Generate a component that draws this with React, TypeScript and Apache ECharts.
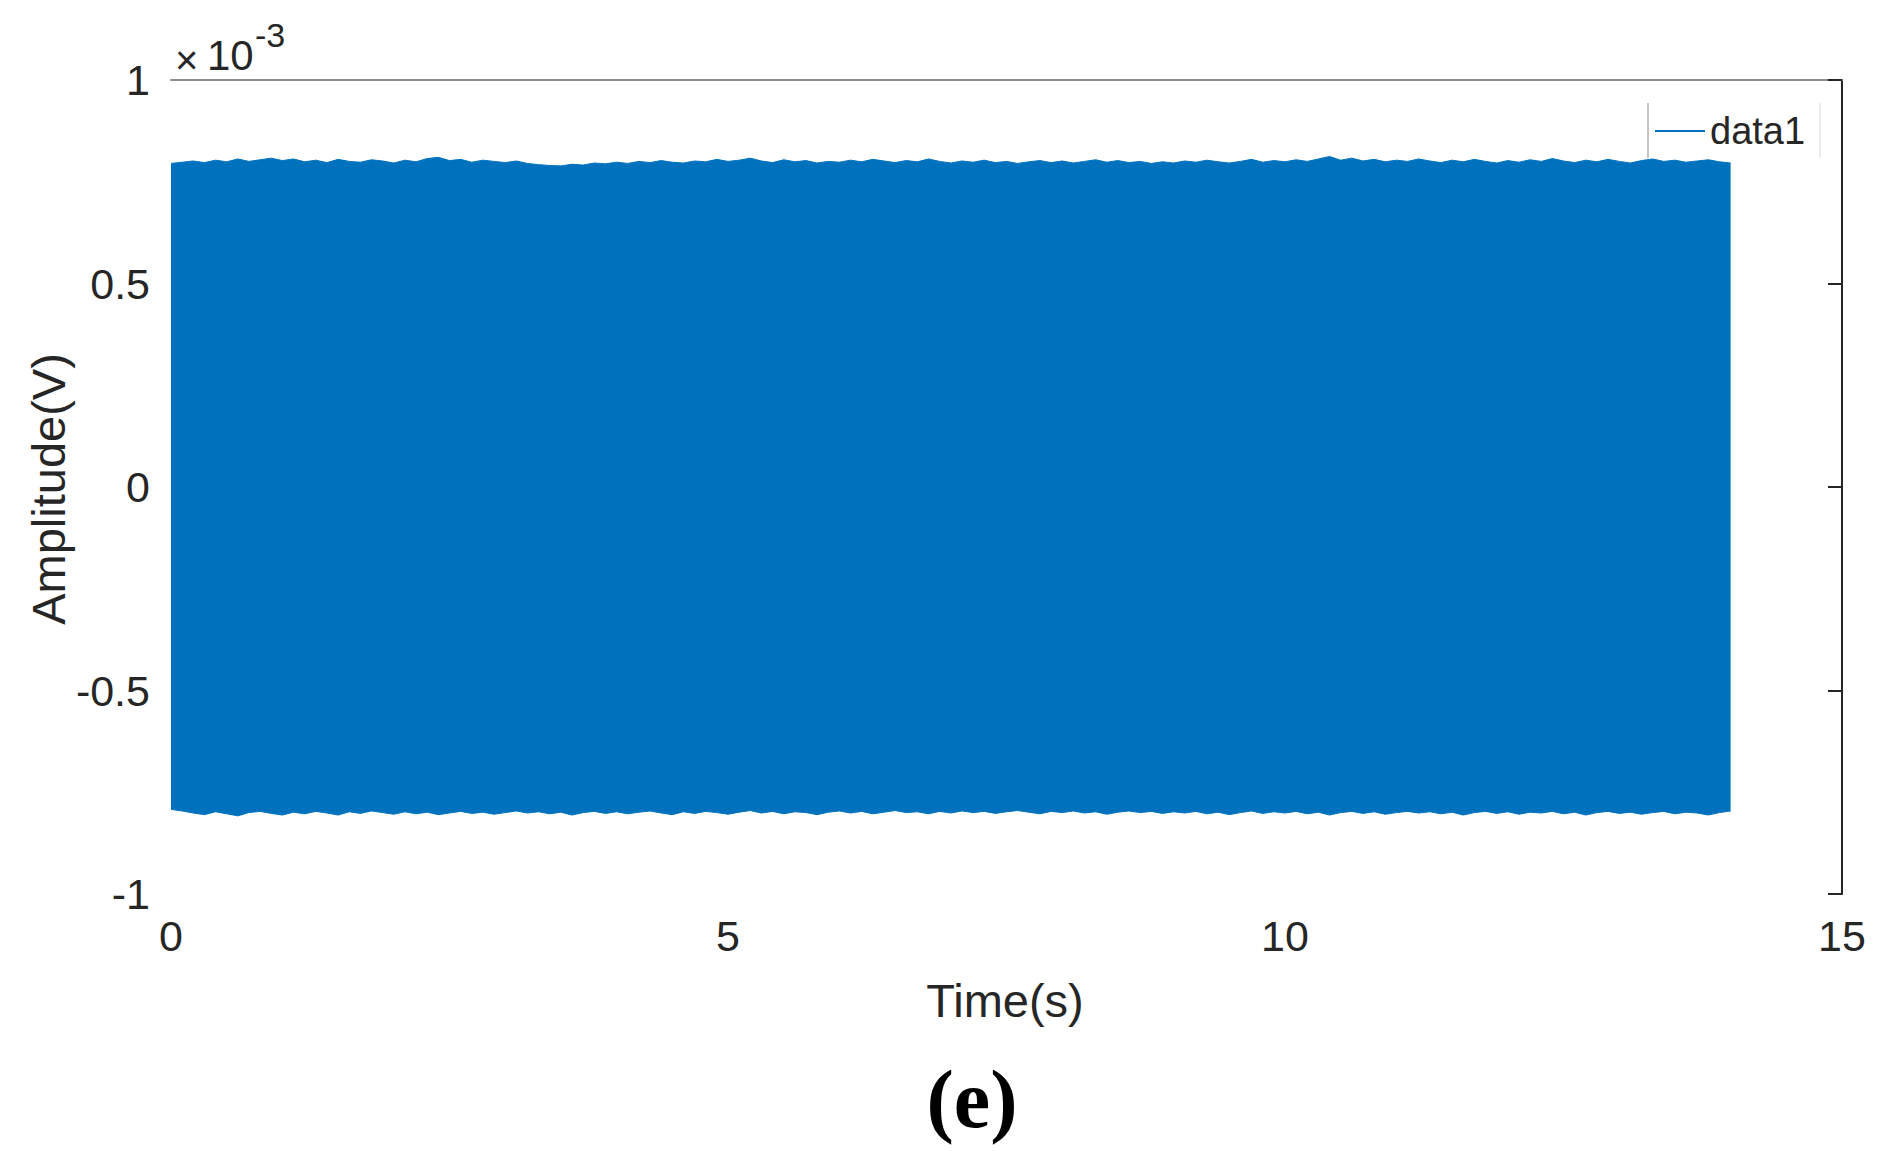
import React, { useEffect, useRef } from "react";
import * as echarts from "echarts";

// Envelope of the recorded signal, in units of 1e-3 V, sampled every 0.1 s from 0 to 14.0 s
const SAMPLE_STEP = 0.1;
const upperEnvelope = [
  0.795, 0.798, 0.801, 0.797, 0.803, 0.799, 0.806, 0.800, 0.804, 0.808, 0.802,
  0.806, 0.799, 0.803, 0.797, 0.805, 0.800, 0.798, 0.804, 0.801, 0.796,
  0.803, 0.799, 0.807, 0.810, 0.802, 0.805, 0.798, 0.803, 0.800, 0.797,
  0.801, 0.795, 0.792, 0.790, 0.789, 0.793, 0.791, 0.796, 0.794, 0.798,
  0.795, 0.800, 0.797, 0.802, 0.798, 0.796, 0.801, 0.799, 0.805, 0.800,
  0.803, 0.808, 0.801, 0.797, 0.804, 0.799, 0.802, 0.796, 0.800, 0.798,
  0.803, 0.799, 0.805, 0.801, 0.797, 0.802, 0.799, 0.806, 0.800, 0.796,
  0.801, 0.798, 0.803, 0.797, 0.800, 0.795, 0.799, 0.802, 0.797, 0.801,
  0.796, 0.800, 0.804, 0.798, 0.802, 0.797, 0.800, 0.795, 0.799, 0.796,
  0.801, 0.798, 0.803, 0.799, 0.796, 0.800, 0.805, 0.798, 0.802, 0.799,
  0.804, 0.800, 0.806, 0.812, 0.803, 0.808, 0.801, 0.805, 0.799, 0.803,
  0.800, 0.806, 0.801, 0.797, 0.803, 0.799, 0.805, 0.800, 0.796, 0.802,
  0.798, 0.804, 0.800, 0.807, 0.801, 0.797, 0.803, 0.799, 0.805, 0.800,
  0.796, 0.802, 0.806, 0.800, 0.803, 0.798, 0.801, 0.804, 0.799, 0.796,
];
const lowerEnvelope = [
  -0.792, -0.796, -0.801, -0.805, -0.798, -0.803, -0.808, -0.800, -0.797, -0.802, -0.806,
  -0.799, -0.803, -0.797, -0.801, -0.806, -0.798, -0.802, -0.796, -0.800, -0.804,
  -0.798, -0.803, -0.799, -0.805, -0.801, -0.797, -0.802, -0.799, -0.804, -0.800,
  -0.796, -0.801, -0.798, -0.803, -0.799, -0.806, -0.800, -0.797, -0.802, -0.798,
  -0.803, -0.799, -0.796, -0.801, -0.805, -0.798, -0.802, -0.797, -0.800, -0.804,
  -0.799, -0.795, -0.801, -0.797, -0.803, -0.798, -0.800, -0.805, -0.799, -0.796,
  -0.801, -0.797, -0.803, -0.799, -0.795, -0.800, -0.798, -0.803, -0.797, -0.801,
  -0.796, -0.800, -0.797, -0.802, -0.798, -0.795, -0.799, -0.803, -0.797, -0.800,
  -0.796, -0.801, -0.798, -0.804, -0.799, -0.796, -0.800, -0.797, -0.802, -0.798,
  -0.801, -0.797, -0.803, -0.799, -0.805, -0.800, -0.796, -0.802, -0.798, -0.801,
  -0.797, -0.803, -0.799, -0.806, -0.800, -0.797, -0.802, -0.798, -0.804, -0.800,
  -0.797, -0.801, -0.798, -0.803, -0.799, -0.806, -0.800, -0.797, -0.802, -0.798,
  -0.804, -0.799, -0.801, -0.797, -0.803, -0.799, -0.806, -0.800, -0.797, -0.802,
  -0.799, -0.804, -0.800, -0.797, -0.803, -0.799, -0.801, -0.806, -0.800, -0.796,
];
const xTicks = [0, 5, 10, 15];
const yTicks = [-1, -0.5, 0, 0.5, 1];

const FONT = "'Liberation Sans', Arial, sans-serif";
const TEXT = "#262626";
const BLUE = "#0072BD";

export default function App() {
  const ref = useRef<HTMLDivElement>(null);

  useEffect(() => {
    if (!ref.current) return;
    const chart = echarts.init(ref.current, undefined, { renderer: "svg" });
    const upper = upperEnvelope.map((v, i) => [+(i * SAMPLE_STEP).toFixed(2), v]);
    const lower = lowerEnvelope.map((v, i) => [+(i * SAMPLE_STEP).toFixed(2), v]);

    chart.setOption({
      animation: false,
      backgroundColor: "#ffffff",
      grid: { left: 171, right: 38, top: 80, bottom: 257 },
      legend: {
        data: [{ name: "data1", icon: "rect", itemStyle: { color: BLUE } }],
        left: 1655,
        top: 112,
        padding: 0,
        itemWidth: 50,
        itemHeight: 2,
        textStyle: { fontFamily: FONT, fontSize: 38, color: TEXT },
        selectedMode: false,
      },
      xAxis: [
        {
          type: "value",
          min: xTicks[0],
          max: xTicks[xTicks.length - 1],
          interval: 5,
          axisLine: { show: false, onZero: false },
          axisTick: { show: false },
          splitLine: { show: false },
          axisLabel: { fontFamily: FONT, fontSize: 43, color: TEXT, margin: 20 },
        },
        {
          type: "value",
          position: "top",
          min: xTicks[0],
          max: xTicks[xTicks.length - 1],
          interval: 5,
          axisLine: { show: true, onZero: false, lineStyle: { color: "#8c8c8c", width: 2 } },
          axisTick: { show: false },
          axisLabel: { show: false },
          splitLine: { show: false },
        },
      ],
      yAxis: [
        {
          type: "value",
          min: yTicks[0],
          max: yTicks[yTicks.length - 1],
          interval: 0.5,
          axisLine: { show: false, onZero: false },
          axisTick: { show: false },
          splitLine: { show: false },
          axisLabel: {
            fontFamily: FONT,
            fontSize: 43,
            color: TEXT,
            margin: 21,
            formatter: (v: number) => String(v),
          },
        },
        {
          type: "value",
          position: "right",
          min: yTicks[0],
          max: yTicks[yTicks.length - 1],
          interval: 0.5,
          axisLine: { show: true, onZero: false, lineStyle: { color: "#262626", width: 2 } },
          axisTick: { show: true, inside: true, length: 14, lineStyle: { color: "#262626", width: 2 } },
          axisLabel: { show: false },
          splitLine: { show: false },
        },
      ],
      series: [
        {
          name: "data1",
          type: "line",
          data: upper,
          symbol: "none",
          lineStyle: { color: BLUE, width: 1 },
          itemStyle: { color: BLUE },
          areaStyle: { color: BLUE, opacity: 1, origin: "auto" },
        },
        {
          name: "data1",
          type: "line",
          data: lower,
          symbol: "none",
          lineStyle: { color: BLUE, width: 1 },
          itemStyle: { color: BLUE },
          areaStyle: { color: BLUE, opacity: 1, origin: "auto" },
        },
      ],
      graphic: [
        { type: "line", shape: { x1: 1648, y1: 103, x2: 1648, y2: 158 }, style: { stroke: "#c4c4c4", lineWidth: 2 } },
        { type: "line", shape: { x1: 1820, y1: 103, x2: 1820, y2: 158 }, style: { stroke: "#ececec", lineWidth: 2 } },
        { type: "text", x: 175, y: 60, style: { text: "×", fontFamily: FONT, fontSize: 40, fill: TEXT, align: "left", verticalAlign: "middle" } },
        { type: "text", x: 207, y: 55, style: { text: "10", fontFamily: FONT, fontSize: 42, fill: TEXT, align: "left", verticalAlign: "middle" } },
        { type: "text", x: 255, y: 35, style: { text: "-3", fontFamily: FONT, fontSize: 34, fill: TEXT, align: "left", verticalAlign: "middle" } },
        { type: "text", x: 1005, y: 1000, style: { text: "Time(s)", fontFamily: FONT, fontSize: 47, fill: TEXT, align: "center", verticalAlign: "middle" } },
        { type: "text", x: 48, y: 489, rotation: Math.PI / 2, style: { text: "Amplitude(V)", fontFamily: FONT, fontSize: 47, fill: TEXT, align: "center", verticalAlign: "middle" } },
        { type: "text", x: 972, y: 1099, style: { text: "(e)", fontFamily: "Liberation Serif", fontWeight: "bold", fontSize: 82, fill: "#000000", align: "center", verticalAlign: "middle" } },
      ],
    });
    return () => chart.dispose();
  }, []);

  return (
    <div
      ref={ref}
      style={{ position: "fixed", left: 0, top: 0, width: 1880, height: 1151, background: "#fff" }}
    />
  );
}
